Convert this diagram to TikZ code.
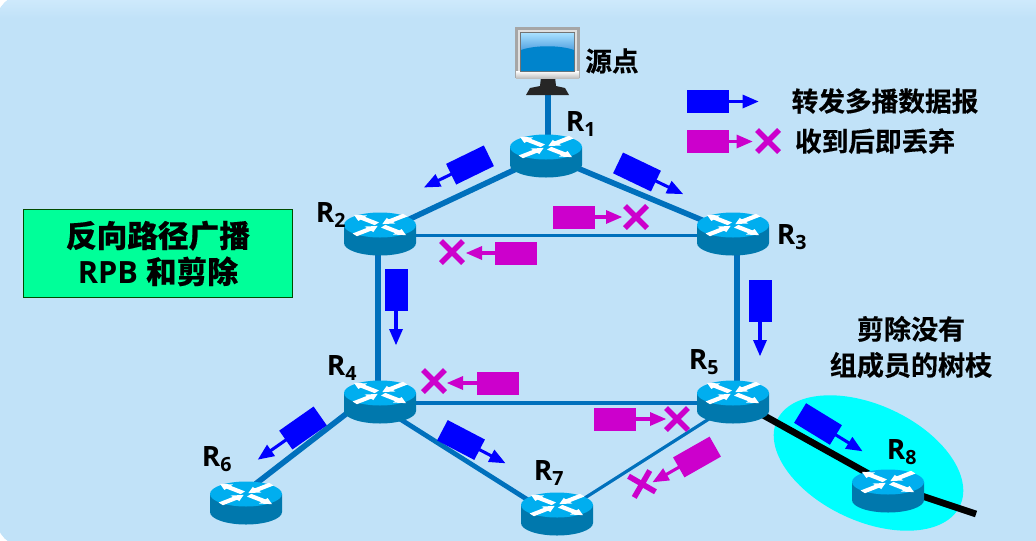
\documentclass[tikz,border=0pt]{standalone}
\usepackage{fontspec}
\setmainfont{Open Sans}
\newfontfamily\cjk{Noto Sans CJK SC Bold}[FakeBold=0.4]
\definecolor{bgblue}{HTML}{C1E2F8}
\definecolor{bgtop}{HTML}{D2ECFD}
\definecolor{linkblue}{HTML}{0070BC}
\definecolor{rtop}{HTML}{00AEEF}
\definecolor{rbody}{HTML}{0078AD}
\definecolor{pktblue}{HTML}{0000FF}
\definecolor{pktmag}{HTML}{CC00CC}
\definecolor{boxgreen}{HTML}{00FF99}
\definecolor{aqua}{HTML}{00FFFF}
\definecolor{screenlow}{HTML}{0084CC}
\definecolor{screenhi}{HTML}{A8E0FF}
\definecolor{screenmid}{HTML}{3A90D8}
\tikzset{
  x=0.75pt,y=-0.75pt,
  thicklink/.style={draw=linkblue,line width=4.2pt},
  thinlink/.style={draw=linkblue,line width=2.4pt},
  prunedlink/.style={draw=black,line width=5pt},
  rlabel/.style={font=\bfseries\fontsize{21}{23}\selectfont,text=black,inner sep=0pt},
  cjklabel/.style={font=\cjk\fontsize{20}{28}\selectfont,text=black,inner sep=0pt,align=center},
  pics/router/.style={code={
    \fill[rbody] (-36,0) -- (-36,18) arc[x radius=36,y radius=-12.5,start angle=180,end angle=360] -- (36,0) -- cycle;
    \fill[rtop] (0,0) ellipse[x radius=36,y radius=12.5];
    \foreach \a/\io in {38/1,142/0,218/1,322/0}{
      \begin{scope}[cm={1,0,0,0.5,(0,0)},rotate=\a]
        \ifnum\io=1
          \fill[white] (3,0) -- (14,-7) -- (14,-3.5) -- (32,-3.5) -- (32,3.5) -- (14,3.5) -- (14,7) -- cycle;
        \else
          \fill[white] (33,0) -- (22,-7) -- (22,-3.5) -- (4,-3.5) -- (4,3.5) -- (22,3.5) -- (22,7) -- cycle;
        \fi
      \end{scope}
    }
  }},
}
% colour, centre x, centre y, visual angle, tip distance from centre
\newcommand\packet[5]{%
  \begin{scope}[shift={(#2,#3)},rotate=#4]
    \fill[#1] (-21,-11.5) rectangle (21,11.5);
    \draw[#1,line width=2.3pt] (20,0) -- (#5-12,0);
    \fill[#1] (#5,0) -- (#5-16,-7) -- (#5-16,7) -- cycle;
  \end{scope}}
\newcommand\crossmark[3]{%
  \begin{scope}[shift={(#1,#2)},rotate=#3]
    \draw[pktmag,line width=4.2pt] (-11,-11) -- (11,11) (-11,11) -- (11,-11);
  \end{scope}}
\begin{document}
\begin{tikzpicture}
\useasboundingbox (0,0) rectangle (1036,540);
\fill[white] (0,0) rectangle (1036,540);
\begin{scope}
  \clip[rounded corners=22pt] (-4,-6) rectangle (1100,547);
  \fill[bgblue] (-4,-6) rectangle (1100,547);
  \shade[top color=bgtop,bottom color=bgblue] (-4,-6) rectangle (1100,18);
\end{scope}

\coordinate (pc) at (548,90);
\coordinate (r1) at (546,147);
\coordinate (r2) at (380,225);
\coordinate (r3) at (733,225);
\coordinate (r4) at (380,393);
\coordinate (r5) at (733,393);
\coordinate (r6) at (246,494);
\coordinate (r7) at (557,505);
\coordinate (r8) at (888,482);
\coordinate (cutend) at (976,514);

% pruned region
\fill[aqua] (868.5,463) ellipse[x radius=101,y radius=58,rotate=-25];

% links
\draw[thicklink] (pc) -- (548,140);
\draw[thicklink] ([yshift=-6pt]r1) -- ([yshift=-6pt]r2);
\draw[thicklink] ([yshift=-6pt]r1) -- ([yshift=-6pt]r3);
\draw[thinlink] ([yshift=-8pt]r2) -- ([yshift=-8pt]r3);
\draw[thicklink] ([xshift=-1.5pt]r2) -- ([xshift=-1.5pt]r4);
\draw[thicklink] ([xshift=3pt]r3) -- ([xshift=3pt]r5);
\draw[thinlink] ([yshift=-7.5pt]r4) -- ([yshift=-7.5pt]r5);
\draw[thicklink] ([yshift=4pt]r4) -- ([yshift=2pt]r6);
\draw[thicklink,line width=3.6pt] ([yshift=-10pt]r4) -- ([yshift=-10pt]r7);
\draw[thinlink] ([yshift=-8pt]r5) -- ([yshift=-8pt]r7);
\draw[prunedlink] ([yshift=-4pt]r5) -- ([yshift=-2pt]r8) -- (cutend);

% routers
\foreach \n in {r1,r2,r3,r4,r5,r6,r7,r8}{\pic at (\n) {router};}

% computer
\fill[black!85] (526,95) -- (530,88) -- (540,86) -- (541,77) -- (555,77) -- (556,86) -- (565,88) -- (569,95) -- cycle;
\fill[black!35] (515,27) rectangle (580,78);
\fill[black!12] (518,30) rectangle (577,76);
\shade[top color=white,bottom color=black!25] (516,71) rectangle (579,78);
\fill[black!55] (520,32) rectangle (575,72);
\shade[top color=screenhi,bottom color=screenmid] (521,33) rectangle (574,55);
\fill[screenlow] (521,71) -- (521,50) .. controls (535,45) and (560,45) .. (574,50) -- (574,71) -- cycle;

% packets
\packet{pktblue}{470}{165}{206}{51}
\packet{pktblue}{637}{172}{-25.6}{51}
\packet{pktblue}{396}{290}{-90}{55}
\packet{pktblue}{760}{301}{-90}{55}
\packet{pktblue}{303}{428}{215}{55}
\packet{pktblue}{461}{440}{-27.6}{50}
\packet{pktblue}{818}{424}{-31.5}{52}
\packet{pktmag}{574}{217}{0}{48}
\packet{pktmag}{516}{253}{180}{50}
\packet{pktmag}{498}{383}{180}{51}
\packet{pktmag}{615}{419}{0}{51}
\packet{pktmag}{697}{457}{209.6}{51}
\crossmark{636}{217}{0}
\crossmark{452}{252}{0}
\crossmark{434}{381}{0}
\crossmark{677}{419}{0}
\crossmark{642}{484}{15}
% legend
\packet{pktblue}{707.5}{101.5}{0}{51}
\packet{pktmag}{707.5}{141.5}{0}{45}
\crossmark{768}{141}{0}

% labels
\node[cjklabel] (src) at (612,61) {源点};
\node[cjklabel,font=\cjk\fontsize{20}{28}\selectfont] (leg1) at (885,101) {转发多播数据报};
\node[cjklabel] (leg2) at (875,141) {收到后即丢弃};
\node[cjklabel,font=\cjk\fontsize{20.3}{27}\selectfont] (prune) at (911,347) {剪除没有\\组成员的树枝};
\node[draw=black!70!green,fill=boxgreen,line width=0.6pt,minimum width=202pt,minimum height=66.5pt,inner sep=0pt,align=center,font=\bfseries\fontsize{23}{27}\selectfont] (title) at (158,253.5) {{\cjk 反向路径广播}\\RPB {\cjk 和剪除}};
\node[rlabel] (l1) at (581,124) {R\textsubscript{1}};
\node[rlabel] (l2) at (331,215) {R\textsubscript{2}};
\node[rlabel] (l3) at (792,237) {R\textsubscript{3}};
\node[rlabel] (l4) at (342,368) {R\textsubscript{4}};
\node[rlabel] (l5) at (704,362) {R\textsubscript{5}};
\node[rlabel] (l6) at (217,459) {R\textsubscript{6}};
\node[rlabel] (l7) at (549,473) {R\textsubscript{7}};
\node[rlabel] (l8) at (902,452) {R\textsubscript{8}};
\end{tikzpicture}
\end{document}
